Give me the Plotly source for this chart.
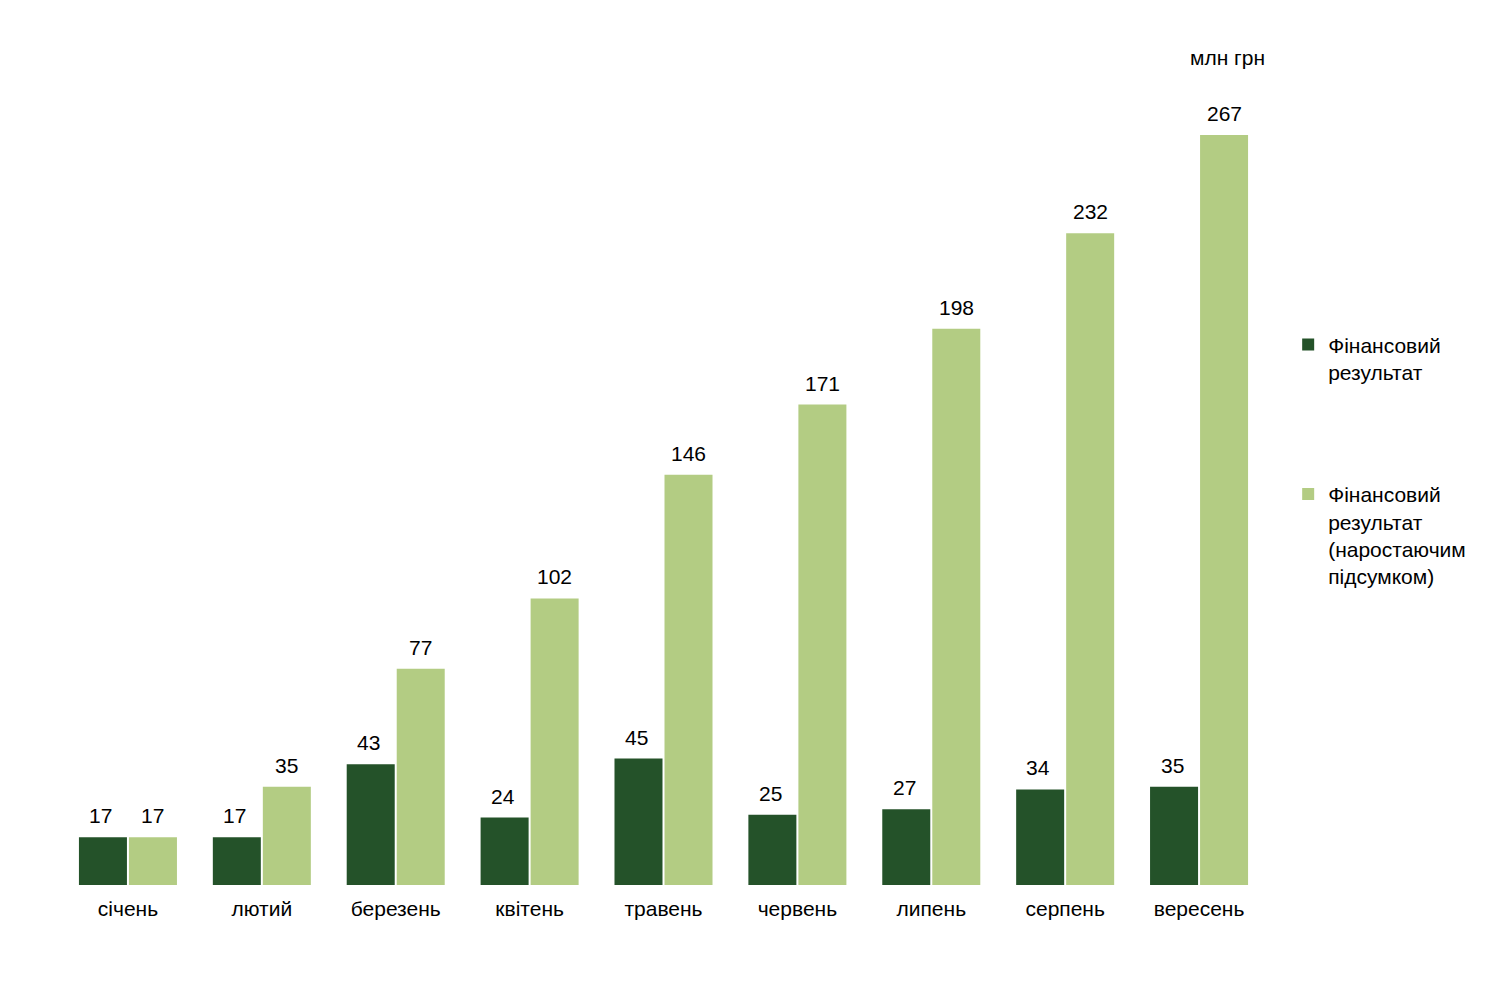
import plotly.graph_objects as go

months = ["січень", "лютий", "березень", "квітень", "травень", "червень", "липень", "серпень", "вересень"]
monthly = [17, 17, 43, 24, 45, 25, 27, 34, 35]
cumulative = [17, 35, 77, 102, 146, 171, 198, 232, 267]
name_monthly = "Фінансовий<br>результат"
name_cumulative = "Фінансовий<br>результат<br>(наростаючим<br>підсумком)"
unit_label = "млн грн"

dark = "#245229"
light = "#b3cc83"
FONT = "Liberation Sans, Arial, sans-serif"
FS = 21

fig = go.Figure()
fig.add_trace(go.Bar(x=months, y=monthly, name=name_monthly, marker_color=dark,
                     marker_line_width=0, legendgroup="a"))
fig.add_trace(go.Bar(x=months, y=cumulative, name=name_cumulative, marker_color=light,
                     marker_line_width=0, legendgroup="b"))

for m, v in zip(months, monthly):
    fig.add_annotation(x=m, y=v, text=str(v), xref="x", yref="y", xshift=-27, yshift=8,
                       yanchor="bottom", showarrow=False, font=dict(size=FS, color="black", family=FONT))
for m, v in zip(months, cumulative):
    fig.add_annotation(x=m, y=v, text=str(v), xref="x", yref="y", xshift=25, yshift=8,
                       yanchor="bottom", showarrow=False, font=dict(size=FS, color="black", family=FONT))

fig.add_annotation(x=0.968, y=1.015, xref="paper", yref="paper", text=unit_label, showarrow=False,
                   xanchor="center", yanchor="middle", font=dict(size=FS, color="black", family=FONT))

fig.update_layout(
    width=1502, height=995,
    margin=dict(l=53, r=244, t=62, b=118),
    plot_bgcolor="white", paper_bgcolor="white",
    barmode="group", bargap=0.253, bargroupgap=0.04,
    font=dict(family=FONT, size=FS, color="black"),
    legend=dict(x=1.0184, y=0.688, xanchor="left", yanchor="top", valign="top",
                tracegroupgap=92, itemwidth=30, font=dict(size=FS, color="black", family=FONT),
                bgcolor="rgba(0,0,0,0)"),
    showlegend=True,
)
fig.update_xaxes(showline=False, showgrid=False, ticks="", tickfont=dict(size=FS, color="black", family=FONT),
                 ticklabelstandoff=9)
fig.update_yaxes(visible=False, range=[0, 290.1], showgrid=False, zeroline=False)

fig.write_html("out.html")
